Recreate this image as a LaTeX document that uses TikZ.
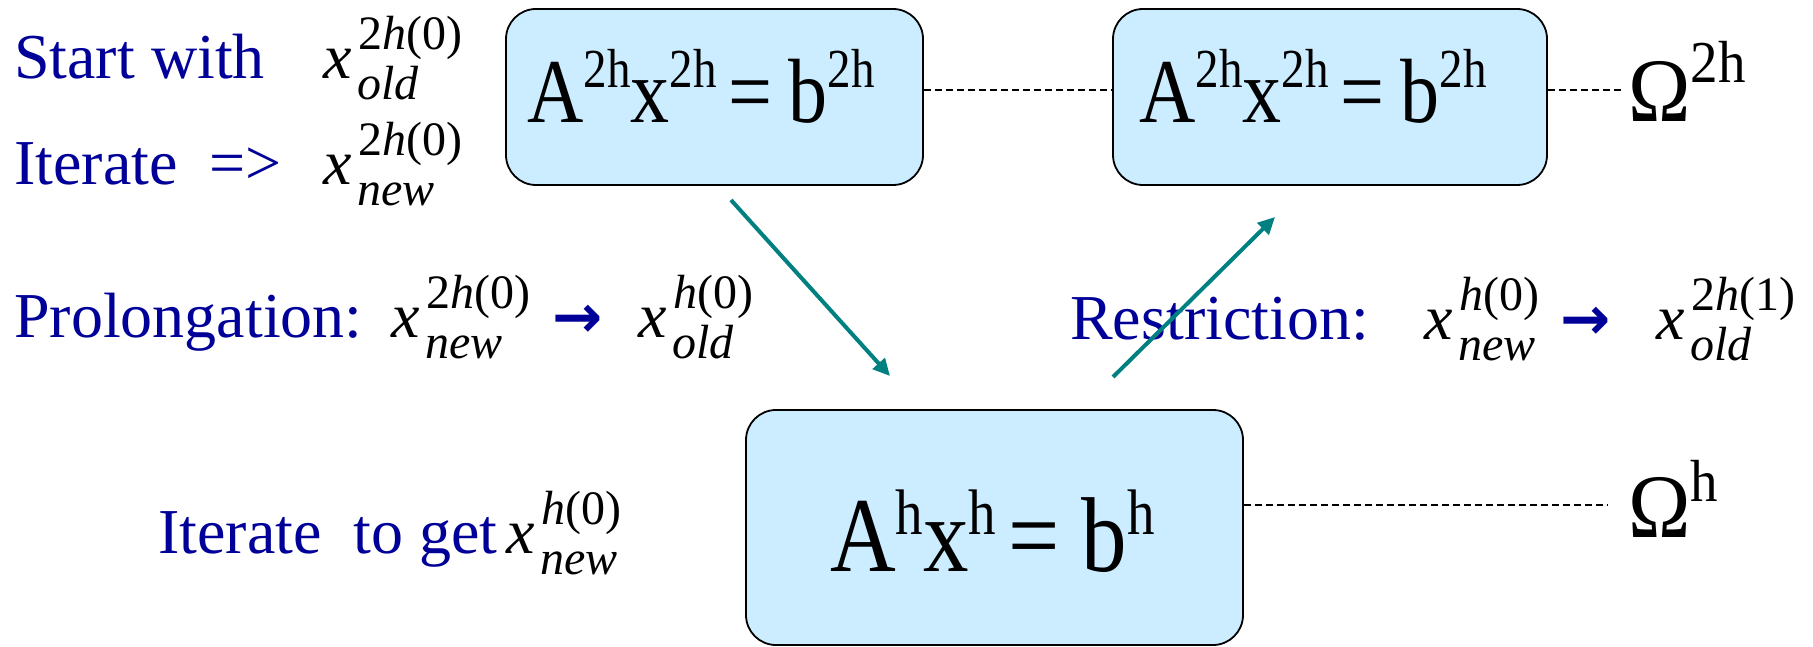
\documentclass[tikz,border=0pt]{standalone}
\usepackage{fontspec}
\usepackage{graphicx}
\setmainfont{Liberation Serif}
\newfontfamily\arrfont{DejaVu Sans}
\usetikzlibrary{arrows.meta}
\definecolor{txtblue}{RGB}{0,0,153}
\definecolor{arrteal}{RGB}{0,128,128}
\definecolor{boxfill}{RGB}{204,236,255}
\newsavebox\supbx
\newsavebox\subbx
\newcommand\xvar[2]{\textit{x}%
 \sbox\supbx{\fontsize{48}{48}\selectfont #1}%
 \sbox\subbx{\fontsize{48}{48}\selectfont\itshape #2}%
 \rlap{\kern7pt\raisebox{29pt}{\usebox\supbx}}%
 \kern6pt\raisebox{-21pt}{\usebox\subbx}}
\newcommand\upsup[3]{\raisebox{#1}{\fontsize{#2}{#2}\selectfont #3}}
\newcommand\tallsc[1]{\scalebox{1}[1.17]{#1}}
\begin{document}
\begin{tikzpicture}[x=1pt,y=-1pt,
  lbl/.style={anchor=base west,inner sep=0pt,text=txtblue,font=\fontsize{64}{70}\selectfont},
  mth/.style={anchor=base west,inner sep=0pt,font=\fontsize{64}{70}\selectfont},
  eqtxt/.style={anchor=base west,inner sep=0pt},
  eqbox/.style={draw=black,line width=1.8pt,fill=boxfill,rounded corners=30pt,inner sep=0pt},
  dashln/.style={line width=1.7pt,dash pattern=on 7pt off 4pt},
  tealarr/.style={draw=arrteal,line width=4pt,-{Triangle[length=17pt,width=16pt]}},
  blarr/.style={anchor=base west,inner sep=0pt,text=txtblue,font=\arrfont\bfseries\fontsize{60}{60}\selectfont}]
\path[use as bounding box] (0,0) rectangle (1813,647);
% boxes
\node[eqbox,minimum width=417pt,minimum height=176pt] (b1) at (714.5,97) {};
\node[eqbox,minimum width=434pt,minimum height=176pt] (b2) at (1330,97) {};
\node[eqbox,minimum width=497pt,minimum height=235pt] (b3) at (994.5,527.5) {};
% equations
\node[eqtxt,font=\fontsize{78}{84}\selectfont] (e1) at (527,123)
  {\tallsc{A\upsup{30pt}{47}{2h}x\upsup{30pt}{47}{2h}\kern12pt=\kern16pt b\upsup{30pt}{47}{2h}}};
\node[eqtxt,font=\fontsize{78}{84}\selectfont] (e2) at (1139,123)
  {\tallsc{A\upsup{30pt}{47}{2h}x\upsup{30pt}{47}{2h}\kern12pt=\kern16pt b\upsup{30pt}{47}{2h}}};
\node[eqtxt,font=\fontsize{91}{96}\selectfont] (e3) at (830,571)
  {\tallsc{A\upsup{31pt}{55}{h}x\upsup{31pt}{55}{h}\kern12pt=\kern22pt b\upsup{31pt}{55}{h}}};
\node[eqtxt,font=\fontsize{84}{90}\selectfont] (om2) at (1628,122) {\scalebox{1}[1.08]{Ω\upsup{37pt}{55}{2h}}};
\node[eqtxt,font=\fontsize{84}{90}\selectfont] (om1) at (1628,537) {\scalebox{1}[1.08]{Ω\upsup{33pt}{55}{h}}};
% labels
\node[lbl] (start) at (14,79) {Start with};
\node[mth] (v1) at (323,79) {\xvar{2\textit{h}(0)}{old}};
\node[lbl] (iter) at (14,185) {Iterate~ =>};
\node[mth] (v2) at (323,185) {\xvar{2\textit{h}(0)}{new}};
\node[lbl] (prol) at (14,337) {Prolongation:};
\node[mth] (v3) at (391,337) {\xvar{2\textit{h}(0)}{new}};
\node[blarr] (ar1) at (552,337) {→};
\node[mth] (v4) at (638,337) {\xvar{\textit{h}(0)}{old}};
\node[lbl] (restr) at (1070,339) {Restriction:};
\node[mth] (v5) at (1424,339) {\xvar{\textit{h}(0)}{new}};
\node[blarr] (ar2) at (1560,339) {→};
\node[mth] (v6) at (1656,339) {\xvar{2\textit{h}(1)}{old}};
\node[lbl] (iter2) at (158,553) {Iterate~ to get};
\node[mth] (v7) at (506,553) {\xvar{\textit{h}(0)}{new}};
% dashed connectors
\coordinate (d1) at ([yshift=7pt]b1.east);
\draw[dashln] (d1) -- (d1 -| b2.west);
\coordinate (d2) at ([yshift=7pt]b2.east);
\draw[dashln,shorten >=5pt] (d2) -- (d2 -| om2.west);
\coordinate (d3) at ([yshift=22.5pt]b3.east);
\draw[dashln,shorten >=21pt] (d3) -- (d3 -| om1.west);
% teal arrows
\coordinate (p1) at (731,200);
\coordinate (q1) at (890,376);
\coordinate (p2) at (1113,377);
\coordinate (q2) at (1275,217);
\draw[tealarr] (p1) -- (q1);
\draw[tealarr] (p2) -- (q2);
\end{tikzpicture}
\end{document}
